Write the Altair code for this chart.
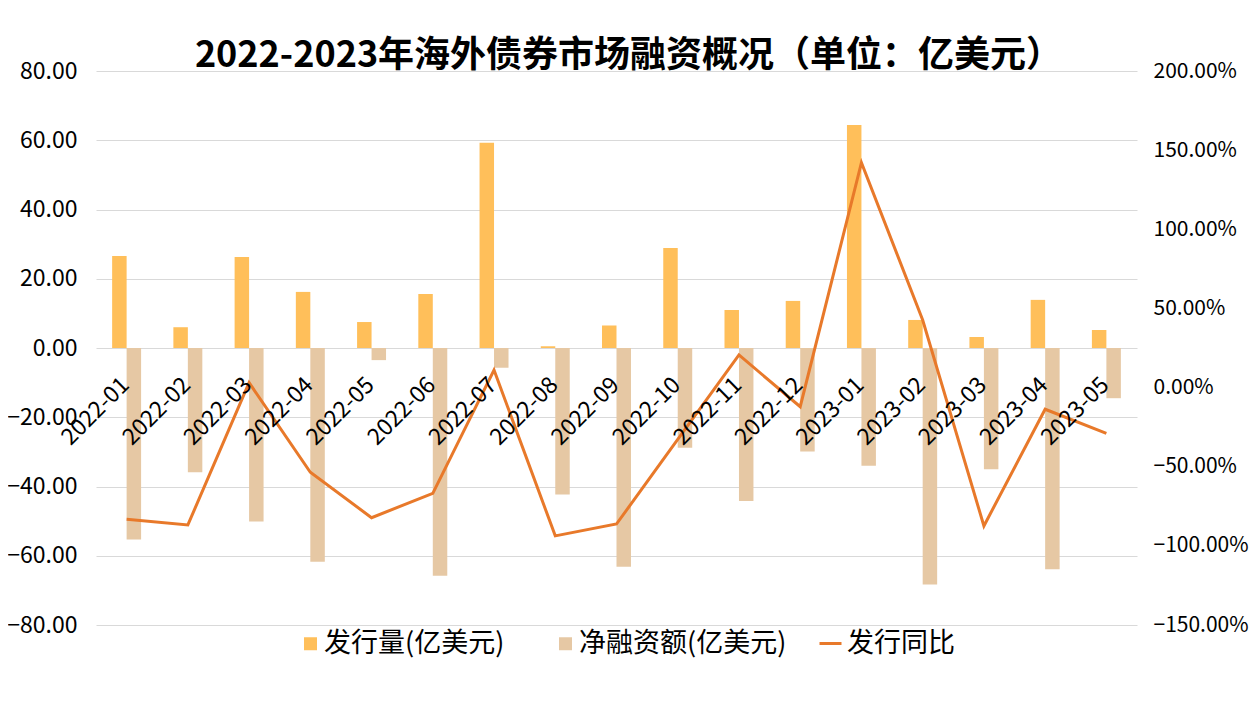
import altair as alt
import pandas as pd

months = ["2022-01", "2022-02", "2022-03", "2022-04", "2022-05", "2022-06",
          "2022-07", "2022-08", "2022-09", "2022-10", "2022-11", "2022-12",
          "2023-01", "2023-02", "2023-03", "2023-04", "2023-05"]
issue = [26.6, 6.0, 26.3, 16.2, 7.5, 15.6, 59.3, 0.5, 6.5, 28.9, 11.0, 13.6,
         64.4, 8.1, 3.2, 13.9, 5.2]
net = [-55.3, -35.9, -50.1, -61.7, -3.5, -65.8, -5.7, -42.3, -63.2, -28.8, -44.2, -29.9,
       -34.0, -68.3, -35.0, -63.9, -14.5]
yoy = [-0.832, -0.868, 0.031, -0.535, -0.822, -0.668, 0.111, -0.937, -0.862, -0.328,
       0.206, -0.121, 1.421, 0.427, -0.874, -0.137, -0.289]

s_issue = "发行量(亿美元)"
s_net = "净融资额(亿美元)"
s_yoy = "发行同比"
left_ticks = [-80, -60, -40, -20, 0, 20, 40, 60, 80]
right_ticks = [-1.5, -1.0, -0.5, 0.0, 0.5, 1.0, 1.5, 2.0]

bar_df = pd.DataFrame({
    "month": months * 2,
    "series": [s_issue] * len(months) + [s_net] * len(months),
    "value": issue + net,
})
line_df = pd.DataFrame({"month": months, "yoy": yoy, "series": [s_yoy] * len(months)})

FONT = "Noto Sans CJK SC"
YELLOW = "#FFBF5A"
TAN = "#E6C8A4"
ORANGE = "#E8792A"

x_scale = alt.Scale(domain=months, paddingInner=0.527, paddingOuter=0.2635)

bars = alt.Chart(bar_df).mark_bar().encode(
    x=alt.X("month:N", sort=months, scale=x_scale,
            axis=alt.Axis(title=None, orient="bottom", offset=-277, labelAngle=-45,
                          labelAlign="right", labelBaseline="middle", labelPadding=33,
                          labelOffset=-1, domain=False, ticks=False, grid=False,
                          labelFont=FONT, labelFontSize=23, labelColor="black",
                          labelOverlap=False, labelBound=False, zindex=1)),
    xOffset=alt.XOffset("series:N", sort=[s_issue, s_net],
                        scale=alt.Scale(domain=[s_issue, s_net], paddingInner=0, paddingOuter=0)),
    y=alt.Y("value:Q", scale=alt.Scale(domain=[-80, 80], nice=False, zero=False),
            axis=alt.Axis(title=None, values=left_ticks, format=".2f", grid=True,
                          gridColor="#D9D9D9", gridWidth=1, domain=False, ticks=False,
                          labelPadding=19, labelFont=FONT, labelFontSize=23,
                          labelColor="black")),
    color=alt.Color("series:N", sort=[s_issue, s_net],
                    scale=alt.Scale(domain=[s_issue, s_net], range=[YELLOW, TAN]),
                    legend=alt.Legend(title=None, orient="none", legendX=201, legendY=559,
                                      direction="horizontal", symbolType="square",
                                      symbolSize=169, symbolStrokeWidth=0,
                                      labelFont=FONT, labelFontSize=27, labelOffset=0,
                                      columnPadding=47, padding=0, labelLimit=400,
                                      labelColor="black")),
)

line = alt.Chart(line_df).mark_line(strokeWidth=3).encode(
    x=alt.X("month:N", sort=months, scale=x_scale),
    y=alt.Y("yoy:Q", scale=alt.Scale(domain=[-1.5, 2.0], nice=False, zero=False),
            axis=alt.Axis(title=None, orient="right", values=right_ticks, format=".2%",
                          grid=False, domain=False, ticks=False, labelPadding=16,
                          labelFont=FONT, labelFontSize=21, labelColor="black")),
    stroke=alt.Stroke("series:N",
                      scale=alt.Scale(domain=[s_yoy], range=[ORANGE]),
                      legend=alt.Legend(title=None, orient="none", legendX=721, legendY=559,
                                        symbolType="stroke", symbolSize=484,
                                        symbolStrokeWidth=3, labelFont=FONT,
                                        labelFontSize=27, labelOffset=3, padding=0,
                                        labelColor="black")),
)

chart = alt.layer(bars, line).resolve_scale(y="independent").properties(
    width=1041,
    height=554,
    autosize=alt.AutoSizeParams(type="none"),
    padding={"left": 88, "top": 63, "right": 112, "bottom": 68},
    background="white",
    title=alt.Title("2022-2023年海外债券市场融资概况（单位：亿美元）", font=FONT,
                    fontSize=36, fontWeight="bold", anchor="middle", frame="group",
                    baseline="alphabetic", offset=3, dy=46, dx=12, color="black"),
).configure_view(strokeWidth=0)

chart.save("out.html", embed_options={"renderer": "svg", "actions": False})
